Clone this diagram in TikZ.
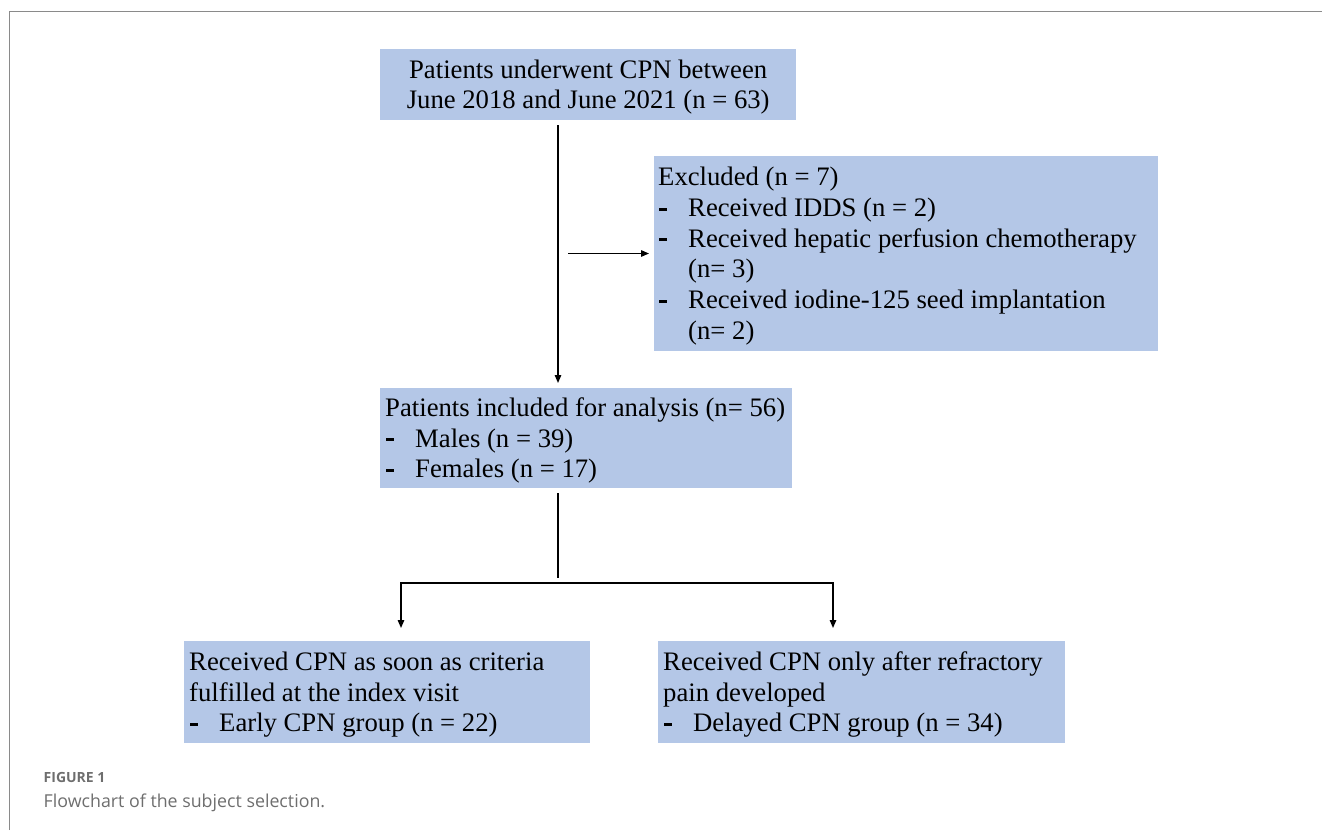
\documentclass[tikz,border=0pt]{standalone}
\usepackage{fontspec}
\setmainfont{Liberation Serif}
\newfontfamily\capfont{Open Sans}
\usetikzlibrary{arrows.meta}
\definecolor{boxblue}{HTML}{B4C7E7}
\definecolor{framegray}{HTML}{8A8A8A}
\definecolor{capgray}{HTML}{6E6E6E}
\newcommand{\bul}{\makebox[30pt][l]{\hspace{1pt}\rule[6pt]{7.5pt}{2.8pt}}}
\tikzset{
  box/.style={fill=boxblue, draw=none, inner sep=0pt, anchor=north west},
  txt/.style={inner xsep=5pt, inner ysep=0pt, align=left, anchor=west,
    yshift=-2.5pt, font=\fontsize{26.7pt}{30.7pt}\selectfont},
  ln/.style={line width=1.4pt, black, line cap=rect},
  arr/.style={ln, -{Triangle[length=8pt,width=6.5pt]}},
}
\begin{document}
\begin{tikzpicture}[x=1pt,y=-1pt]
\useasboundingbox (0,0) rectangle (1322,830);
% frame
\draw[framegray, line width=1.5pt] (9.7,830) -- (9.7,11.5) -- (1322,11.5);
% boxes
\node[box, minimum width=416pt, minimum height=71pt] (top) at (380,49) {};
\node[txt, align=center, anchor=center] (toptext) at (top.center)
  {Patients underwent CPN between\\June 2018 and June 2021 (n = 63)};
\node[box, minimum width=504pt, minimum height=195pt] (excl) at (654,156) {};
\node[txt, inner xsep=4pt] (excltext) at (excl.west)
  {Excluded (n = 7)\\
   \bul Received IDDS (n = 2)\\
   \bul Received hepatic perfusion chemotherapy\\
   \hspace*{30pt}(n= 3)\\
   \bul Received iodine-125 seed implantation\\
   \hspace*{30pt}(n= 2)};
\node[box, minimum width=412pt, minimum height=100pt] (mid) at (380,388) {};
\node[txt] (midtext) at (mid.west)
  {Patients included for analysis (n= 56)\\
   \bul Males (n = 39)\\
   \bul Females (n = 17)};
\node[box, minimum width=406pt, minimum height=102pt] (early) at (184,641) {};
\node[txt] (earlytext) at (early.west)
  {Received CPN as soon as criteria\\
   fulfilled at the index visit\\
   \bul Early CPN group (n = 22)};
\node[box, minimum width=407pt, minimum height=102pt] (late) at (658,641) {};
\node[txt] (latetext) at (late.west)
  {Received CPN only after refractory\\
   pain developed\\
   \bul Delayed CPN group (n = 34)};
% connectors
\coordinate (sp) at (558,0);
\coordinate (exs) at (569,253.5);
\coordinate (brk) at (558,577);
\coordinate (hl) at (401,583);
\coordinate (hr) at (833,583);
\draw[arr, shorten <=5pt, shorten >=5pt] (top.south -| sp) -- (mid.north -| sp);
\draw[arr, shorten >=5pt] (exs) -- (excl.west |- exs);
\draw[ln, shorten <=5pt] (mid.south -| sp) -- (brk);
\draw[arr, shorten >=13pt] (hr) -- (hl) -- (hl |- early.north);
\draw[arr, shorten >=13pt] (hr) -- (hr |- late.north);
% caption
\node[anchor=base west, inner sep=0pt, text=capgray, font=\capfont\bfseries\fontsize{14pt}{16pt}\selectfont] (figlab) at (43.5,782) {FIGURE 1};
\node[anchor=base west, inner sep=0pt, text=capgray, font=\capfont\fontsize{17.8pt}{20pt}\selectfont] (figcap) at (43.5,807) {Flowchart of the subject selection.};
\end{tikzpicture}
\end{document}
